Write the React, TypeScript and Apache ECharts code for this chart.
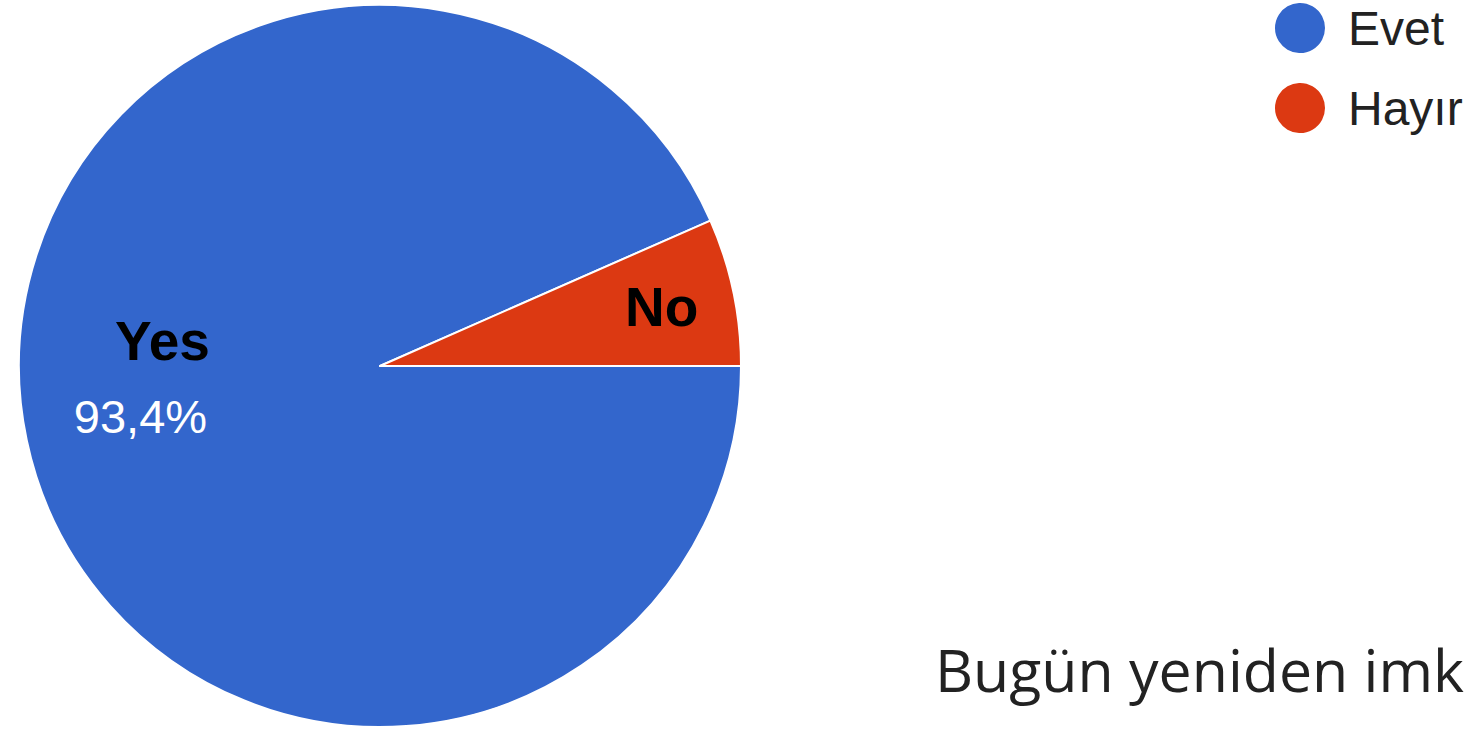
import React, { useEffect, useRef } from "react";
import * as echarts from "echarts";

const categories = ["Evet", "Hayır"];
const labelNames = ["Yes", "No"];
const values = [93.4, 6.6];
const colors = ["#3366CC", "#DC3912"];
const footerText = "Bugün yeniden imk";

const fmtPct = (v: number) => v.toFixed(1).replace(".", ",") + "%";

export default function App() {
  const ref = useRef<HTMLDivElement>(null);
  useEffect(() => {
    document.body.style.margin = "0";
    if (!ref.current) return;
    const chart = echarts.init(ref.current, undefined, { renderer: "svg" });
    const offsets = [
      [-60, -25],
      [102, -21],
    ];
    chart.setOption({
      animation: false,
      color: colors,
      title: {
        text: footerText,
        left: 930,
        top: 634,
        textStyle: {
          fontFamily: "'Open Sans', Arial, sans-serif",
          fontSize: 59,
          fontWeight: "normal",
          color: "#222222",
        },
      },
      legend: {
        orient: "vertical",
        left: 1273,
        top: 1,
        padding: 0,
        icon: "circle",
        itemWidth: 52,
        itemHeight: 52,
        itemGap: 26,
        data: categories,
        textStyle: {
          fontFamily: "Arial, 'Liberation Sans', sans-serif",
          fontSize: 48,
          color: "#222222",
          padding: [0, 0, 0, 17],
        },
      },
      series: [
        {
          type: "pie",
          center: [380, 366],
          radius: 361,
          startAngle: 0,
          clockwise: true,
          avoidLabelOverlap: false,
          itemStyle: { borderColor: "#ffffff", borderWidth: 2 },
          emphasis: { disabled: true },
          label: {
            show: true,
            position: "inside",
            formatter: (p: any) =>
              p.dataIndex === 0
                ? `{b|${labelNames[0]}}\n{p|${fmtPct(p.percent)}}`
                : `{n|${labelNames[1]}}`,
            rich: {
              b: {
                fontFamily: "Arial, 'Liberation Sans', sans-serif",
                fontWeight: "bold",
                fontSize: 55,
                color: "#000000",
                lineHeight: 75,
                padding: [0, 0, 0, 44],
              },
              p: {
                fontFamily: "Arial, 'Liberation Sans', sans-serif",
                fontSize: 47,
                color: "#ffffff",
                lineHeight: 76,
              },
              n: {
                fontFamily: "Arial, 'Liberation Sans', sans-serif",
                fontWeight: "bold",
                fontSize: 55,
                color: "#000000",
              },
            },
          },
          labelLine: { show: false },
          labelLayout: (params: any) => ({
            dx: offsets[params.dataIndex][0],
            dy: offsets[params.dataIndex][1],
          }),
          data: categories.map((name, i) => ({ name, value: values[i] })),
        },
      ],
    });
    return () => chart.dispose();
  }, []);
  return <div ref={ref} style={{ width: 1468, height: 731 }} />;
}
